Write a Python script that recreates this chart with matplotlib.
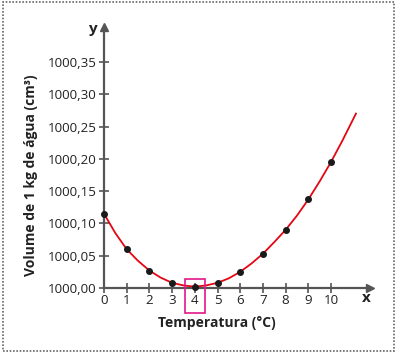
import matplotlib
matplotlib.use("Agg")
import matplotlib.pyplot as plt
from matplotlib.patches import Rectangle

plt.rcParams['font.family'] = ['Open Sans', 'DejaVu Sans']

# Data points (temperature °C, volume above 1000 cm3)
temps = [0, 1, 2, 3, 4, 5, 6, 7, 8, 9, 10]
volumes = [0.115, 0.060, 0.027, 0.008, 0.002, 0.008, 0.025, 0.053, 0.090, 0.137, 0.195]

# Smooth curve samples
curve_t = [0, 0.5, 1, 1.5, 2, 2.5, 3, 3.5, 4, 4.5, 5, 5.5, 6, 6.5, 7, 7.5, 8, 8.5, 9, 9.5, 10, 10.5, 11.1]
curve_v = [0.115, 0.085, 0.060, 0.042, 0.027, 0.016, 0.008, 0.004, 0.002, 0.004, 0.008, 0.015,
           0.025, 0.038, 0.053, 0.071, 0.090, 0.112, 0.137, 0.165, 0.195, 0.228, 0.270]

x_ticks = [0, 1, 2, 3, 4, 5, 6, 7, 8, 9, 10]
y_ticks = [0.00, 0.05, 0.10, 0.15, 0.20, 0.25, 0.30, 0.35]
y_tick_labels = ["1000,00", "1000,05", "1000,10", "1000,15", "1000,20", "1000,25", "1000,30", "1000,35"]

W, H = 398, 354
fig = plt.figure(figsize=(W / 100, H / 100), dpi=100)

# axes placement in pixels
L, R, T, B = 104, 372, 25, 315
ax = fig.add_axes([L / W, 1 - B / H, (R - L) / W, (B - T) / H])
px_per_x = 22.7
px_per_y = 32.3 / 0.05
ax.set_xlim(0, (R - L) / px_per_x)
ax.set_ylim(-(B - 288) / px_per_y, (288 - T) / px_per_y)

axis_col = '#555555'
for s in ['top', 'right']:
    ax.spines[s].set_visible(False)
ax.spines['bottom'].set_position(('data', 0))
ax.spines['left'].set_position(('data', 0))
x_end = (370 - L) / px_per_x
y_end = (288 - 27) / px_per_y
ax.spines['bottom'].set_bounds(0, x_end - 0.2)
ax.spines['left'].set_bounds(0, y_end - 0.01)
for s in ['bottom', 'left']:
    ax.spines[s].set_color(axis_col)
    ax.spines[s].set_linewidth(1.6)

ax.plot([x_end], [0], marker='>', color=axis_col, markersize=6, clip_on=False, zorder=5)
ax.plot([0], [y_end], marker='^', color=axis_col, markersize=6, clip_on=False, zorder=5)

ax.set_xticks(x_ticks)
ax.set_xticklabels([str(t) for t in x_ticks])
ax.set_yticks(y_ticks)
ax.set_yticklabels(y_tick_labels)
ax.tick_params(axis='both', direction='inout', length=7, width=1.2, color=axis_col,
               labelsize=9.6, labelcolor='#222222')
ax.tick_params(axis='y', pad=2)
ax.tick_params(axis='x', pad=1)

ax.plot(curve_t, curve_v, color='#e30613', linewidth=1.3, clip_on=False, zorder=3)
ax.plot(temps, volumes, 'o', color='#1a1a1a', markersize=4, zorder=4, clip_on=False)

ax.add_patch(Rectangle((3.57, -0.039), 0.88, 0.053, fill=False, edgecolor='#e5168a',
                       linewidth=1.2, clip_on=False, zorder=6))

fig.text(92 / W, 1 - 29 / H, 'y', fontsize=11, fontweight='bold', ha='center', va='center', color='#222222')
fig.text(366 / W, 1 - 298 / H, 'x', fontsize=11, fontweight='bold', ha='center', va='center', color='#222222')
fig.text(217 / W, 1 - 323 / H, 'Temperatura (°C)', fontsize=10, fontweight='bold',
         ha='center', va='center', color='#222222')
fig.text(31 / W, 1 - 175 / H, 'Volume de 1 kg de água (cm³)', fontsize=10, fontweight='bold',
         ha='center', va='center', rotation=90, color='#222222')

fig.add_artist(Rectangle((3 / W, 1 - 351 / H), 391 / W, 349 / H, transform=fig.transFigure,
                         fill=False, edgecolor='#666666', linestyle=(0, (1, 1)), linewidth=1.2))

fig.savefig('out.png', dpi=100)
